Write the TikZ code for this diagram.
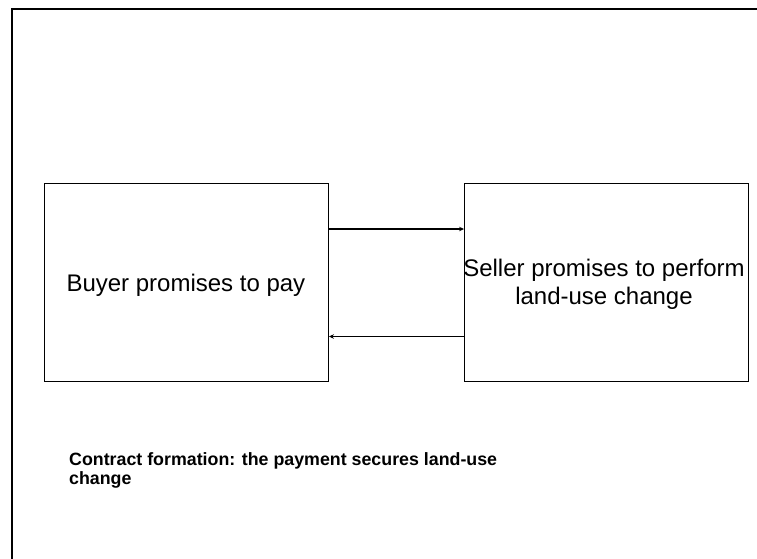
\documentclass[tikz,border=0pt]{standalone}
\usepackage{fontspec}
\setmainfont{Liberation Sans}
\usetikzlibrary{arrows.meta}
\begin{document}
\begin{tikzpicture}[x=1pt,y=1pt,
  box/.style={draw=black,line width=0.9pt,inner sep=0pt,rectangle,minimum height=198.5pt},
  boxtext/.style={inner sep=0pt,font=\fontsize{24}{27.6}\selectfont,align=center,anchor=base},
  arr/.style={line width=1.4pt,-{Stealth[length=5pt,width=4.5pt]}},
  caption/.style={font=\fontsize{17.8}{18.7}\selectfont\bfseries,align=left,inner sep=0pt}]
\useasboundingbox (0,0) rectangle (757,-558);
\draw[line width=2pt] (11.8,-560) -- (11.8,-9) -- (760,-9);
\node[box,minimum width=284pt] (buyer) at (186.5,-282.25) {};
\node[box,minimum width=283.5pt] (seller) at (606.25,-282.25) {};
\node[boxtext] (buyertext) at ([xshift=-0.6pt,yshift=-9.45pt]buyer.center) {Buyer promises to pay};
\node[boxtext] (sellertext) at ([xshift=-2.25pt,yshift=-22.05pt]seller.center) {Seller promises to perform\\land-use change};
\coordinate (a1) at (0,-229);
\coordinate (a2) at (0,-336.5);
\draw[arr] (buyer.east |- a1) -- (seller.west |- a1);
\draw[arr] (seller.west |- a2) -- (buyer.east |- a2);
\node[caption,anchor=base west] (cap) at (69,-484.4) {Contract formation: the payment secures land-use\\change};
\end{tikzpicture}
\end{document}
